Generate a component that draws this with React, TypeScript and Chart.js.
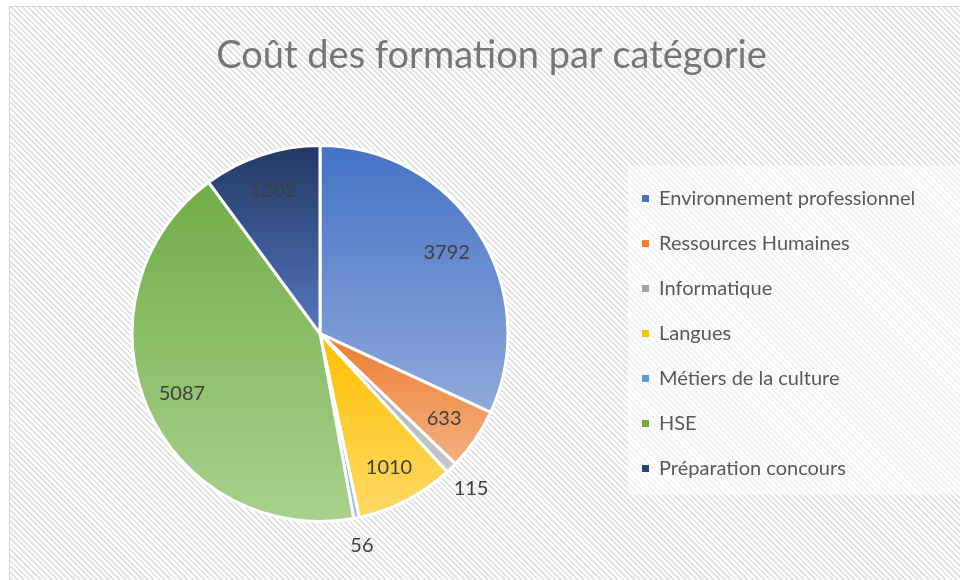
import React, { useEffect, useRef } from "react";
import { Chart, registerables } from "chart.js";

Chart.register(...registerables);

const TITLE = "Coût des formation par catégorie";
const categories = [
  "Environnement professionnel",
  "Ressources Humaines",
  "Informatique",
  "Langues",
  "Métiers de la culture",
  "HSE",
  "Préparation concours",
];
const costs = [3792, 633, 115, 1010, 56, 5087, 1202];
const baseColors = ["#4472C4", "#ED7D31", "#A5A5A5", "#FFC000", "#5B9BD5", "#70AD47", "#264478"];
const topColors = ["#4472C4", "#ED7D31", "#A5A5A5", "#FFC000", "#5B9BD5", "#70AD47", "#203864"];
const bottomColors = ["#8FAADC", "#F4B183", "#C9C9C9", "#FFD966", "#9DC3E6", "#A9D18E", "#5577BB"];

const FONT = "Lato, 'Open Sans', sans-serif";
const LEGEND_FONT_SIZE = 20;
const LEGEND_PADDING = 25;
const LEGEND_BOX = 7;
const PAD_LEFT = 23;
const LEGEND_LEFT_TARGET = 617;

function total() {
  return costs.reduce((a, b) => a + b, 0);
}

function sliceFill(c: any) {
  const i = c.dataIndex;
  const chart = c.chart;
  const area = chart.chartArea;
  if (!area || i == null) return baseColors[i ?? 0];
  const t = total();
  let cum = 0;
  for (let k = 0; k < i; k++) cum += costs[k];
  const a0 = -Math.PI / 2 + (2 * Math.PI * cum) / t;
  const a1 = a0 + (2 * Math.PI * costs[i]) / t;
  const cy = (area.top + area.bottom) / 2;
  const r = Math.min(area.width, area.height) / 2;
  const ys = [cy, cy + r * Math.sin(a0), cy + r * Math.sin(a1)];
  for (const a of [-Math.PI / 2, Math.PI / 2, (3 * Math.PI) / 2]) {
    if (a >= a0 && a <= a1) ys.push(cy + r * Math.sin(a));
  }
  const y0 = Math.min(...ys);
  const y1 = Math.max(...ys);
  const g = chart.ctx.createLinearGradient(0, y0, 0, y1 + 0.01);
  g.addColorStop(0, topColors[i]);
  g.addColorStop(1, bottomColors[i]);
  return g;
}

const labelPlugin = {
  id: "sliceLabels",
  afterDatasetsDraw(chart: any) {
    const meta = chart.getDatasetMeta(0);
    const ctx = chart.ctx;
    const t = total();
    ctx.save();
    ctx.font = `20px ${FONT}`;
    ctx.fillStyle = "#404040";
    ctx.textAlign = "center";
    ctx.textBaseline = "middle";
    meta.data.forEach((arc: any, i: number) => {
      const p = arc.getProps(["x", "y", "startAngle", "endAngle", "outerRadius"], true);
      const mid = (p.startAngle + p.endAngle) / 2;
      const f = costs[i] / t < 0.02 ? 1.15 : 0.8;
      ctx.fillText(String(costs[i]), p.x + Math.cos(mid) * p.outerRadius * f, p.y + Math.sin(mid) * p.outerRadius * f);
    });
    ctx.restore();
  },
};

const framePlugin = {
  id: "legendFrame",
  afterLayout(chart: any) {
    const tb = chart.titleBlock;
    if (tb) {
      tb.left = PAD_LEFT;
      tb.right = chart.width;
    }
  },
  beforeDraw(chart: any) {
    const lg = chart.legend;
    if (!lg || !lg.legendHitBoxes || !lg.legendHitBoxes.length) return;
    const hb = lg.legendHitBoxes;
    const first = hb[0];
    const last = hb[hb.length - 1];
    const ctx = chart.ctx;
    ctx.save();
    ctx.fillStyle = "rgba(255,255,255,0.6)";
    const top = first.top - 23;
    const bottom = last.top + last.height + 16;
    ctx.fillRect(lg.left + 11, top, chart.width - lg.left - 11, bottom - top);
    ctx.restore();
  },
};

export default function App() {
  const ref = useRef<HTMLCanvasElement | null>(null);

  useEffect(() => {
    if (!ref.current) return;
    const m = document.createElement("canvas").getContext("2d")!;
    m.font = `${LEGEND_FONT_SIZE}px ${FONT}`;
    const maxText = Math.max(...categories.map((c) => m.measureText(c).width));
    const legendWidth = LEGEND_PADDING + LEGEND_BOX + LEGEND_FONT_SIZE / 2 + maxText + 10;
    const padRight = Math.max(0, 960 - LEGEND_LEFT_TARGET - legendWidth);

    const chart = new Chart(ref.current, {
      type: "pie",
      data: {
        labels: categories,
        datasets: [
          {
            data: costs,
            backgroundColor: sliceFill as any,
            borderColor: "#FFFFFF",
            borderWidth: 3,
            hoverOffset: 0,
          },
        ],
      },
      options: {
        responsive: false,
        animation: false,
        events: [],
        layout: { padding: { left: PAD_LEFT, right: padRight, top: 0, bottom: 57 } },
        plugins: {
          tooltip: { enabled: false },
          title: {
            display: true,
            text: TITLE,
            color: "#767676",
            font: { family: FONT, size: 38, weight: "normal" },
            padding: { top: 33, bottom: 65.5 },
          },
          legend: {
            display: true,
            position: "right",
            align: "center",
            fullSize: false,
            labels: {
              boxWidth: LEGEND_BOX,
              boxHeight: LEGEND_BOX,
              padding: LEGEND_PADDING,
              color: "#595959",
              font: { family: FONT, size: LEGEND_FONT_SIZE },
              generateLabels: () =>
                categories.map((c, i) => ({
                  text: c,
                  fillStyle: baseColors[i],
                  strokeStyle: baseColors[i],
                  lineWidth: 0,
                  hidden: false,
                  index: i,
                  fontColor: "#595959",
                })),
            },
          },
        },
      },
      plugins: [framePlugin, labelPlugin],
    });
    return () => chart.destroy();
  }, []);

  return (
    <div style={{ position: "fixed", left: 0, top: 0, width: 960, height: 580, overflow: "hidden", background: "#ffffff" }}>
      <div
        style={{
          position: "absolute",
          left: 9,
          top: 6,
          width: 1000,
          height: 620,
          border: "1px solid #d6d6d6",
          background: "repeating-linear-gradient(45deg, #ffffff 0px, #ffffff 2px, #e4e4e4 2px, #e4e4e4 4px)",
        }}
      />
      <canvas ref={ref} width={960} height={580} style={{ position: "absolute", left: 0, top: 0, width: 960, height: 580 }} />
    </div>
  );
}
